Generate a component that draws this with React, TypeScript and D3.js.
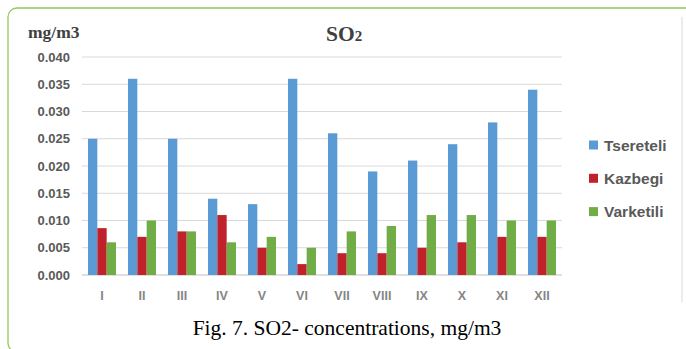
import React from "react";
import * as d3 from "d3";

const months = ["I", "II", "III", "IV", "V", "VI", "VII", "VIII", "IX", "X", "XI", "XII"];
const seriesNames = ["Tsereteli", "Kazbegi", "Varketili"];
const tsereteli = [0.025, 0.036, 0.025, 0.014, 0.013, 0.036, 0.026, 0.019, 0.021, 0.024, 0.028, 0.034];
const kazbegi = [0.0086, 0.007, 0.008, 0.011, 0.005, 0.002, 0.004, 0.004, 0.005, 0.006, 0.007, 0.007];
const varketili = [0.006, 0.01, 0.008, 0.006, 0.007, 0.005, 0.008, 0.009, 0.011, 0.011, 0.01, 0.01];
const yTicks = [0, 0.005, 0.01, 0.015, 0.02, 0.025, 0.03, 0.035, 0.04];
const colors = ["#5b9bd5", "#c0222b", "#70ad47"];

const W = 686;
const H = 349;
const plot = { left: 82, right: 562, top: 57, bottom: 275 };

export default function App() {
  const values = [tsereteli, kazbegi, varketili];
  const x0 = d3.scaleBand<string>().domain(months).range([plot.left, plot.right]).paddingInner(0.3).paddingOuter(0.15);
  const x1 = d3.scaleBand<string>().domain(seriesNames).range([0, x0.bandwidth()]);
  const y = d3.scaleLinear().domain([0, 0.04]).range([plot.bottom, plot.top]);
  const tickFont = "'Liberation Sans', Arial, sans-serif";
  const serif = "'Liberation Serif', 'Times New Roman', serif";

  return (
    <div style={{ position: "absolute", left: 0, top: 0 }}>
      <svg width={W} height={H} style={{ display: "block", background: "#fff" }}>
        <rect x={8} y={8} width={700} height={344} rx={9} fill="none" stroke="#92c85a" strokeWidth={1.3} />
        <line x1={682} x2={682} y1={17} y2={302} stroke="#d9d9d9" strokeWidth={1} />

        <text x={28} y={37.5} fontFamily={serif} fontWeight="bold" fontSize={17.5} fill="#404040">mg/m3</text>
        <text x={326} y={41} fontFamily={serif} fontWeight="bold" fontSize={21.5} fill="#404040">
          SO<tspan fontSize={15}>2</tspan>
        </text>

        {yTicks.map((t) => (
          <g key={t}>
            <line x1={plot.left} x2={plot.right} y1={y(t)} y2={y(t)} stroke={t === 0 ? "#bfbfbf" : "#d9d9d9"} strokeWidth={1} />
            <text x={70} y={y(t) + 4.5} textAnchor="end" fontFamily={tickFont} fontWeight="bold" fontSize={13} fill="#595959">
              {d3.format(".3f")(t)}
            </text>
          </g>
        ))}

        {months.map((m, i) => (
          <g key={m}>
            {seriesNames.map((s, k) => (
              <rect
                key={s}
                x={(x0(m) ?? 0) + (x1(s) ?? 0)}
                y={y(values[k][i])}
                width={x1.bandwidth()}
                height={plot.bottom - y(values[k][i])}
                fill={colors[k]}
              />
            ))}
            <text x={(x0(m) ?? 0) + x0.bandwidth() / 2} y={300} textAnchor="middle" fontFamily={tickFont} fontWeight="bold" fontSize={12.5} fill="#858585">
              {m}
            </text>
          </g>
        ))}

        {seriesNames.map((s, k) => (
          <g key={s} transform={`translate(589, ${145 + k * 33.3})`}>
            <rect x={0} y={-4.5} width={9} height={9} fill={colors[k]} />
            <text x={15} y={5.5} fontFamily={tickFont} fontWeight="bold" fontSize={15.5} fill="#595959">{s}</text>
          </g>
        ))}

        <text x={347} y={335} textAnchor="middle" fontFamily={serif} fontSize={21.5} fill="#000">
          Fig. 7. SO2- concentrations, mg/m3
        </text>
      </svg>
    </div>
  );
}
